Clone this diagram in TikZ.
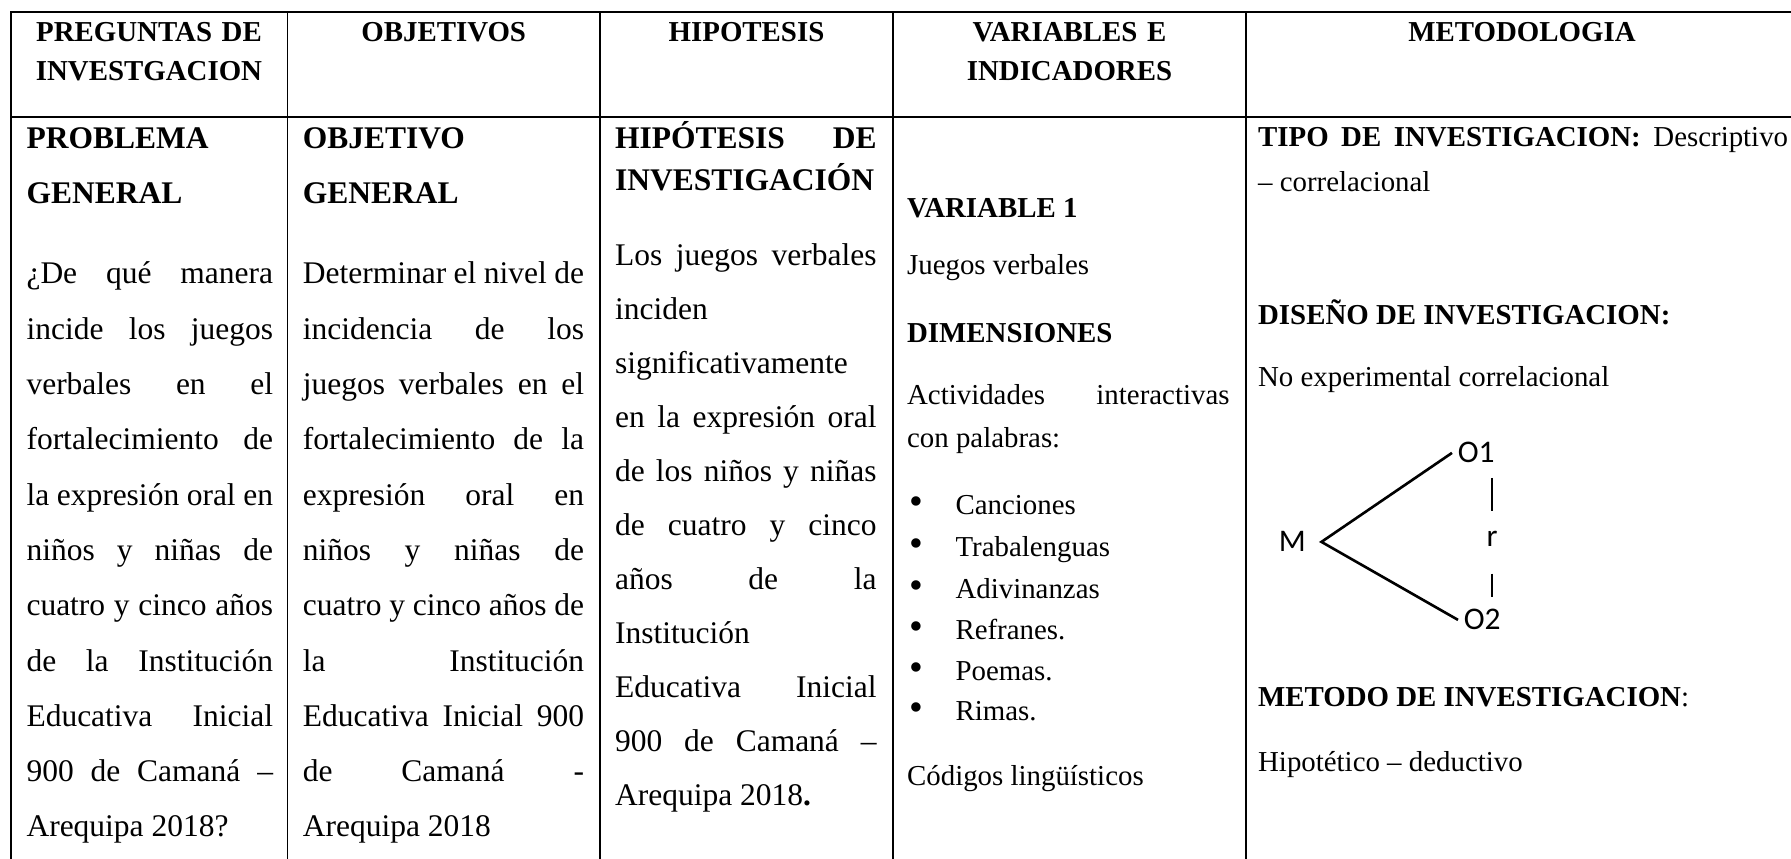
\documentclass[tikz,border=0pt]{standalone}
\usepackage{fontspec}
\setmainfont{Liberation Serif}
\newfontfamily\diagfont{Carlito}
\usetikzlibrary{positioning}

\newdimen\px
\px=0.381pt
\newcommand{\jl}[2]{\hbox to #1\px{#2}}

\tikzset{
  enc/.style={font=\fontsize{11}{14.5}\selectfont\bfseries, anchor=base, inner sep=0pt, align=center},
  txt/.style={font=\fontsize{12}{14}\selectfont, anchor=base west, inner sep=0pt},
  tit/.style={txt, font=\fontsize{12}{14}\selectfont\bfseries},
  var/.style={font=\fontsize{11}{13}\selectfont, anchor=base west, inner sep=0pt},
  varb/.style={var, font=\fontsize{11}{13}\selectfont\bfseries},
  vineta/.style={var, font=\fontsize{15}{15}\selectfont},
  tabla/.style={line width=0.76pt, line cap=rect},
  dis/.style={font=\diagfont\fontsize{12}{14}\selectfont, anchor=base west, inner sep=2pt},
}

\begin{document}
\begin{tikzpicture}[x=0.381pt,y=-0.381pt]
    \useasboundingbox (0,0) rectangle (1791,859);

        % Table lines
        \draw[tabla] (10.7,12) -- (1791,12);
        \draw[tabla] (10.7,117) -- (1791,117);
        \foreach \x in {10.7,287.5,600,893,1246}
          \draw[tabla] (\x,12) -- (\x,859);

        % Header row
        \node[enc, text width=100pt] (h1) at (149,42) {PREGUNTAS DE\\INVESTGACION};
        \node[enc, text width=115pt] (h2) at (443.7,42) {OBJETIVOS};
        \node[enc, text width=108pt] (h3) at (746.5,42) {HIPOTESIS};
        \node[enc, text width=130pt] (h4) at (1069.5,42) {VARIABLES E\\INDICADORES};
        \node[enc, text width=200pt] (h5) at (1522,42) {METODOLOGIA};

        % Preguntas
        \node[tit] (p1) at (26,149) {PROBLEMA};
        \node[tit] (p2) at (26,204) {GENERAL};
        \foreach \txt [count=\i] in {¿De qué manera, incide los juegos, verbales en el,
            fortalecimiento de, la expresión oral en, niños y niñas de, cuatro y cinco años,
            de la Institución, Educativa Inicial, 900 de Camaná –, Arequipa 2018?\hfill}
          \node[txt] (a\i) at (26,{284+55.3*(\i-1)}) {\jl{246.5}{\txt}};

        % Objetivos
        \node[tit] (o1) at (302.3,149) {OBJETIVO};
        \node[tit] (o2) at (302.3,204) {GENERAL};
        \foreach \txt [count=\i] in {Determinar el nivel de, incidencia de los, juegos verbales en el,
            fortalecimiento de la, expresión oral en, niños y niñas de, cuatro y cinco años de,
            la Institución, Educativa Inicial 900, de Camaná -, Arequipa 2018\hfill}
          \node[txt] (b\i) at (302.3,{284+55.3*(\i-1)}) {\jl{281.3}{\txt}};

        % Hipotesis
        \node[tit] (q1) at (614.6,149) {\jl{261.4}{HIPÓTESIS DE}};
        \node[tit] (q2) at (614.6,191) {INVESTIGACIÓN};
        \foreach \txt [count=\i] in {Los juegos verbales, inciden\hfill, significativamente\hfill,
            en la expresión oral, de los niños y niñas, de cuatro y cinco, años de la,
            Institución\hfill, Educativa Inicial, 900 de Camaná –, Arequipa 2018\textbf{.}\hfill}
          \node[txt] (c\i) at (614.6,{266+54*(\i-1)}) {\jl{261.4}{\txt}};

        % Variables
        \node[varb] (v1) at (906.6,218) {VARIABLE 1};
        \node[var] (v2) at (906.6,275) {Juegos verbales};
        \node[varb] (v3) at (906.6,343) {DIMENSIONES};
        \node[var] (v4) at (906.6,405) {\jl{322.4}{Actividades interactivas}};
        \node[var] (v5) at (906.6,448) {con palabras:};
        \foreach \txt/\y [count=\i] in {Canciones/515, Trabalenguas/557, Adivinanzas/599,
            Refranes./640, Poemas./681, Rimas./721}
        {
          \node[var] (d\i) at (955,\y) {\txt};
          \node[vineta] (e\i) at (909,\y) {•};
        }
        \node[var] (v6) at (906.6,786) {Códigos lingüísticos};

        % Metodologia
        \node[var] (m1) at (1257.6,147) {\jl{530}{\textbf{TIPO DE INVESTIGACION:} Descriptivo}};
        \node[var] (m2) at (1257.6,192) {– correlacional};
        \node[varb] (m3) at (1257.6,325) {DISEÑO DE INVESTIGACION:};
        \node[var] (m4) at (1257.6,387) {No experimental correlacional};
        \node[var] (m5) at (1257.6,707) {\textbf{METODO DE INVESTIGACION}:};
        \node[var] (m6) at (1257.6,772) {Hipotético – deductivo};

        % Define nodes
        \node[dis] (M) at (1273,552) {M};
        \node[dis] (O1) at (1452,463) {O1};
        \node[dis] (O2) at (1458,630) {O2};
        \node[dis, inner sep=0pt] (r) at (1486,547) {r};
        \coordinate (mv) at ([xshift=3.8pt]M.east);

        % Connect the nodes
        \draw[line width=1pt] (O1.west) -- (mv) -- (O2.west);
        \draw[line width=0.8pt, shorten <=3.4pt, shorten >=7.6pt] (r.north |- O1.south) -- (r.north);
        \draw[line width=0.8pt, shorten <=9.9pt, shorten >=2.7pt] (r.south) -- (r.south |- O2.north);
      \end{tikzpicture}
\end{document}
